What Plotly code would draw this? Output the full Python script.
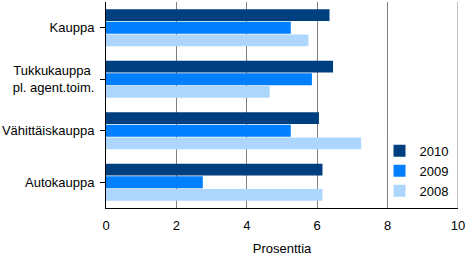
import plotly.graph_objects as go

categories = ["Kauppa", "Tukkukauppa <br>pl. agent.toim.", "Vähittäiskauppa", "Autokauppa"]
years = ["2010", "2009", "2008"]
values_2010 = [6.35, 6.45, 6.05, 6.15]
values_2009 = [5.25, 5.85, 5.25, 2.75]
values_2008 = [5.75, 4.65, 7.25, 6.15]
colors = ["#003f7f", "#007fff", "#acd6fb"]
x_ticks = [0, 2, 4, 6, 8, 10]

fig = go.Figure()
for name, vals, col in zip(years, [values_2010, values_2009, values_2008], colors):
    fig.add_trace(go.Bar(y=categories, x=vals, name=name, orientation="h",
                         marker=dict(color=col, line=dict(width=0))))

font = "Liberation Sans, Arial, sans-serif"
fig.add_shape(type="line", xref="x", yref="paper", x0=10, x1=10, y0=0, y1=1,
              line=dict(color="#808080", width=1), layer="below")
fig.update_layout(
    width=467, height=256,
    margin=dict(l=105, r=8, t=2, b=47),
    plot_bgcolor="white", paper_bgcolor="white",
    barmode="group", bargap=0.27, bargroupgap=0.06,
    font=dict(family=font, size=13, color="black"),
    showlegend=True,
    legend=dict(x=0.777, y=0.35, xanchor="left", yanchor="top",
                traceorder="normal", bgcolor="rgba(255,255,255,0.01)", borderwidth=0,
                font=dict(size=13), itemwidth=30, tracegroupgap=0),
    xaxis=dict(range=[0, 10], tickvals=x_ticks, showgrid=True, gridcolor="#808080",
               gridwidth=1, zeroline=False, showline=True, linecolor="black",
               linewidth=1, ticks="", ticklabelstandoff=5,
               title=dict(text="Prosenttia", standoff=12, font=dict(size=13))),
    yaxis=dict(autorange="reversed", showline=True, linecolor="black", linewidth=1,
               ticks="outside", ticklen=5, tickcolor="black", showgrid=False,
               ticklabelstandoff=3),
)
fig.write_html("out.html")
